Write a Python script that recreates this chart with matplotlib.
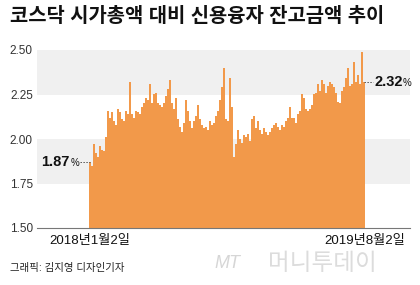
import matplotlib
matplotlib.use('Agg')
from matplotlib import pyplot as plt
import numpy as np

plt.rcParams['font.family'] = ['Liberation Sans', 'Noto Sans CJK KR']

title = '코스닥 시가총액 대비 신용융자 잔고금액 추이'
source = '그래픽: 김지영 디자인기자'
start_label = '2018년1월2일'
end_label = '2019년8월2일'
y_ticks = [1.50, 1.75, 2.00, 2.25, 2.50]
y_tick_labels = ['1.50', '1.75', '2.00', '2.25', '2.50']

# ratio (%), roughly every few trading days
ratio = [
    1.87, 1.85, 1.97, 1.92, 1.90, 1.96, 1.94, 1.93, 2.01, 2.16,
    2.12, 2.15, 2.10, 2.08, 2.17, 2.15, 2.11, 2.10, 2.16, 2.14,
    2.32, 2.14, 2.12, 2.16, 2.15, 2.14, 2.18, 2.20, 2.23, 2.22,
    2.31, 2.20, 2.25, 2.26,
    2.20, 2.19, 2.18, 2.20, 2.24, 2.28, 2.33, 2.20, 2.17, 2.23,
    2.11, 2.07, 2.04, 2.09, 2.22, 2.16, 2.10, 2.06, 2.10, 2.13,
    2.19, 2.11, 2.08, 2.06, 2.07, 2.05, 2.10, 2.08, 2.09, 2.13,
    2.16, 2.22, 2.29, 2.40,
    2.11, 2.10, 2.34, 2.18, 1.90, 1.97, 2.05, 2.00, 1.98, 2.02,
    2.01, 2.03, 1.99, 2.11, 2.13, 2.06, 2.10, 2.05, 2.03, 2.06,
    2.04, 2.02, 2.04, 2.06, 2.08, 2.09, 2.07, 2.05, 2.08, 2.07,
    2.10, 2.12, 2.18, 2.12,
    2.12, 2.09, 2.14, 2.16, 2.25, 2.23, 2.17, 2.16, 2.17, 2.19,
    2.25, 2.26, 2.31, 2.27, 2.33, 2.31, 2.26, 2.30, 2.32, 2.31,
    2.29, 2.26, 2.21, 2.20, 2.27, 2.29, 2.34, 2.40, 2.30, 2.31,
    2.43, 2.32, 2.36, 2.31, 2.49, 2.32,
]
first_value = 1.87
last_value = 2.32

x = np.arange(len(ratio))
n = len(ratio)

fig = plt.figure(figsize=(4.2, 2.85), dpi=100)
ax = fig.add_axes([37 / 420, 57 / 285, 373 / 420, 178 / 285])

ax.axhspan(2.25, 2.50, color='#f0f0f0', zorder=0, lw=0)
ax.axhspan(1.75, 2.00, color='#f0f0f0', zorder=0, lw=0)

ax.bar(x, np.array(ratio) - 1.5, bottom=1.5, width=0.72, color='#f2994a', lw=0, zorder=2)

ax.set_xlim(-26.5, 160)
ax.set_ylim(1.50, 2.50)
ax.set_yticks(y_ticks)
ax.set_yticklabels(y_tick_labels, fontsize=8.5, color='#333333')
ax.tick_params(axis='y', length=0, pad=3)
ax.set_xticks([])
for s in ['top', 'right', 'left']:
    ax.spines[s].set_visible(False)
ax.spines['bottom'].set_color('#777777')
ax.spines['bottom'].set_linewidth(0.8)

# start / end annotations
ax.plot([-5, 0], [first_value, first_value], ls=(0, (1.5, 1.5)), color='#555555', lw=0.7, zorder=3)
ax.text(-5.3, first_value - 0.004, '%', fontsize=7, ha='right', va='center', color='#111111')
ax.text(-10, first_value, '1.87', fontsize=10.5, fontweight='bold', ha='right', va='center', color='#111111')

ax.plot([n - 1, n + 3.5], [last_value, last_value], ls=(0, (1.5, 1.5)), color='#555555', lw=0.7, zorder=3)
ax.text(n + 4.3, last_value, '2.32', fontsize=10.5, fontweight='bold', ha='left', va='center', color='#111111')
ax.text(n + 18.4, last_value - 0.004, '%', fontsize=7, ha='left', va='center', color='#111111')

fig.text(10 / 420, 1 - 17 / 285, title, fontsize=14.3, fontweight='black', ha='left', va='center', color='#111111')
fig.text(90 / 420, 1 - 241 / 285, start_label, fontsize=9.5, ha='center', va='center', color='#111111')
fig.text(405 / 420, 1 - 241 / 285, end_label, fontsize=9.5, ha='right', va='center', color='#111111')
fig.text(10 / 420, 1 - 268 / 285, source, fontsize=7.5, ha='left', va='center', color='#222222')
fig.text(214 / 420, 1 - 264 / 285, 'MT', fontsize=13, style='italic', ha='left', va='center', color='#d6d6d6')
fig.text(268 / 420, 1 - 264 / 285, '머니투데이', fontsize=17, ha='left', va='center', color='#dcdcdc')

plt.savefig('out.png', dpi=100)
